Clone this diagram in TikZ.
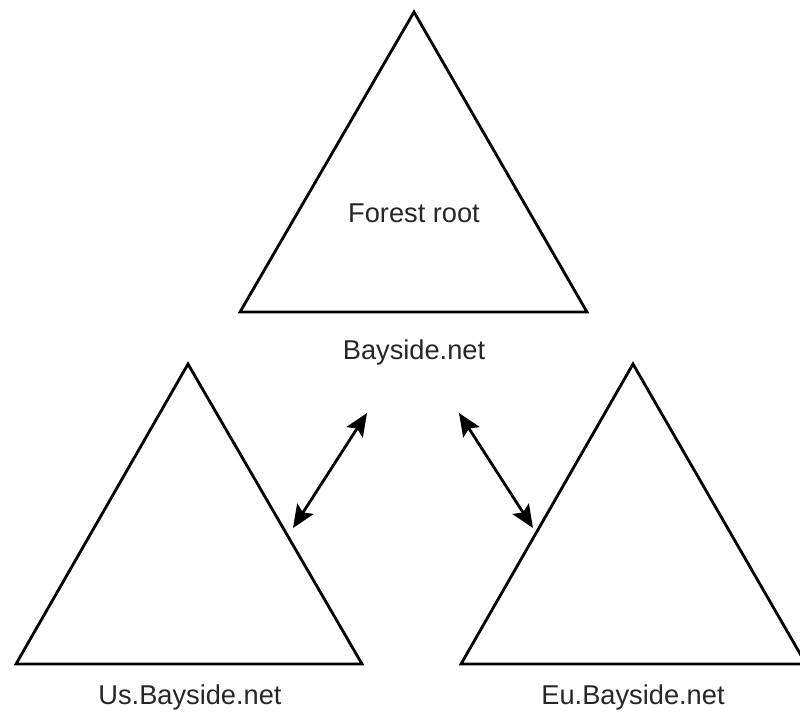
\documentclass[tikz,border=0pt]{standalone}
\usepackage{fontspec}
\setmainfont{Liberation Sans}
\usetikzlibrary{arrows.meta}
\begin{document}
\begin{tikzpicture}[x=0.02cm,y=-0.02cm,
  tri/.style={draw=black, line width=1.6pt, line join=miter},
  lbl/.style={font=\fontsize{15.5pt}{18pt}\selectfont, text=black!85, inner sep=0pt},
  link/.style={line width=1.6pt, {Stealth[length=13pt,width=11pt,inset=2.5pt]}-{Stealth[length=13pt,width=11pt,inset=2.5pt]}}]
\useasboundingbox (0,0) rectangle (800,711);
\clip (0,0) rectangle (800,711);
% top triangle
\coordinate (tA) at (414,12);
\coordinate (tL) at (240,312);
\coordinate (tR) at (587,312);
\draw[tri] (tA) -- (tR) -- (tL) -- cycle;
% left triangle
\coordinate (lA) at (188,364);
\coordinate (lL) at (16,664);
\coordinate (lR) at (362,664);
\draw[tri] (lA) -- (lR) -- (lL) -- cycle;
% right triangle
\coordinate (rA) at (633,364);
\coordinate (rL) at (461,664);
\coordinate (rR) at (806,664);
\draw[tri] (rA) -- (rR) -- (rL) -- cycle;
% labels
\node[lbl] (root) at (414,213) {Forest root};
\node[lbl] (bay) at (414,352) {Bayside.net};
\node[lbl] (us) at (190,697) {Us.Bayside.net};
\node[lbl] (eu) at (633,697) {Eu.Bayside.net};
% arrows
\coordinate (a1) at (293,528);
\coordinate (a2) at (367,413);
\coordinate (b1) at (459,413);
\coordinate (b2) at (533,528);
\draw[link] (a1) -- (a2);
\draw[link] (b1) -- (b2);
\end{tikzpicture}
\end{document}
